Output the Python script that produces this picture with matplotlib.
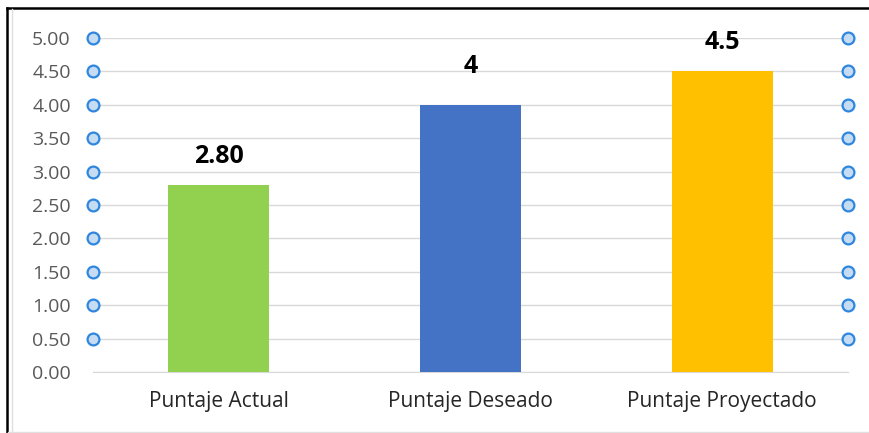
import numpy as np
import matplotlib.pyplot as plt
from matplotlib.lines import Line2D
from matplotlib.transforms import blended_transform_factory

# chart data
categories = ["Puntaje Actual", "Puntaje Deseado", "Puntaje Proyectado"]
scores = [2.80, 4.0, 4.5]
score_labels = ["2.80", "4", "4.5"]
label_y = [3.22, 4.58, 4.94]   # where the data labels were placed in the chart
bar_colors = ["#92D050", "#4472C4", "#FFC000"]
y_ticks = [0.0, 0.5, 1.0, 1.5, 2.0, 2.5, 3.0, 3.5, 4.0, 4.5, 5.0]

plt.rcParams['font.family'] = ['Open Sans', 'DejaVu Sans']

fig = plt.figure(figsize=(8.69, 4.33), dpi=100)
ax = fig.add_axes([0.107, 0.141, 0.869, 0.771])

x = np.arange(len(categories))
ax.bar(x, scores, width=0.4, color=bar_colors, zorder=3)

# value labels above bars
for xi, ly, lab in zip(x, label_y, score_labels):
    ax.text(xi, ly, lab, ha='center', va='center',
            fontsize=18, fontweight='bold', color='black', zorder=6)

ax.set_xlim(-0.5, len(categories) - 0.5)
ax.set_ylim(0, 5)
ax.set_yticks(y_ticks)
ax.set_yticklabels([f"{t:.2f}" for t in y_ticks])
ax.set_xticks(x)
ax.set_xticklabels(categories)
ax.tick_params(axis='y', length=0, pad=16, labelsize=14, labelcolor='#595959')
ax.tick_params(axis='x', length=0, pad=14, labelsize=15, labelcolor='#262626')

ax.grid(axis='y', color='#D9D9D9', linewidth=1, zorder=0)
for side in ['top', 'right', 'left']:
    ax.spines[side].set_visible(False)
ax.spines['bottom'].set_color('#D9D9D9')

# selection handles at the ends of the gridlines
trans = blended_transform_factory(ax.transAxes, ax.transData)
handle_y = [t for t in y_ticks if t > 0]
for xpos in (0, 1):
    ax.plot([xpos] * len(handle_y), handle_y, 'o', transform=trans,
            markersize=8.5, markerfacecolor='#C5DCF3', markeredgecolor='#2E86DE',
            markeredgewidth=1.6, clip_on=False, zorder=5)

# outer frame (top and left black, bottom light gray)
fig.add_artist(Line2D([7.5 / 869, 1], [1 - 7.5 / 433, 1 - 7.5 / 433],
                      transform=fig.transFigure, color='black', linewidth=1.8))
fig.add_artist(Line2D([7.5 / 869, 7.5 / 869], [0, 1 - 7.5 / 433],
                      transform=fig.transFigure, color='black', linewidth=1.8))
fig.add_artist(Line2D([11.5 / 869, 11.5 / 869], [0, 1 - 9 / 433],
                      transform=fig.transFigure, color='#E0E0E0', linewidth=1))
fig.add_artist(Line2D([8 / 869, 1], [1 / 433, 1 / 433],
                      transform=fig.transFigure, color='#E0E0E0', linewidth=1))

fig.savefig('out.png', dpi=100)
